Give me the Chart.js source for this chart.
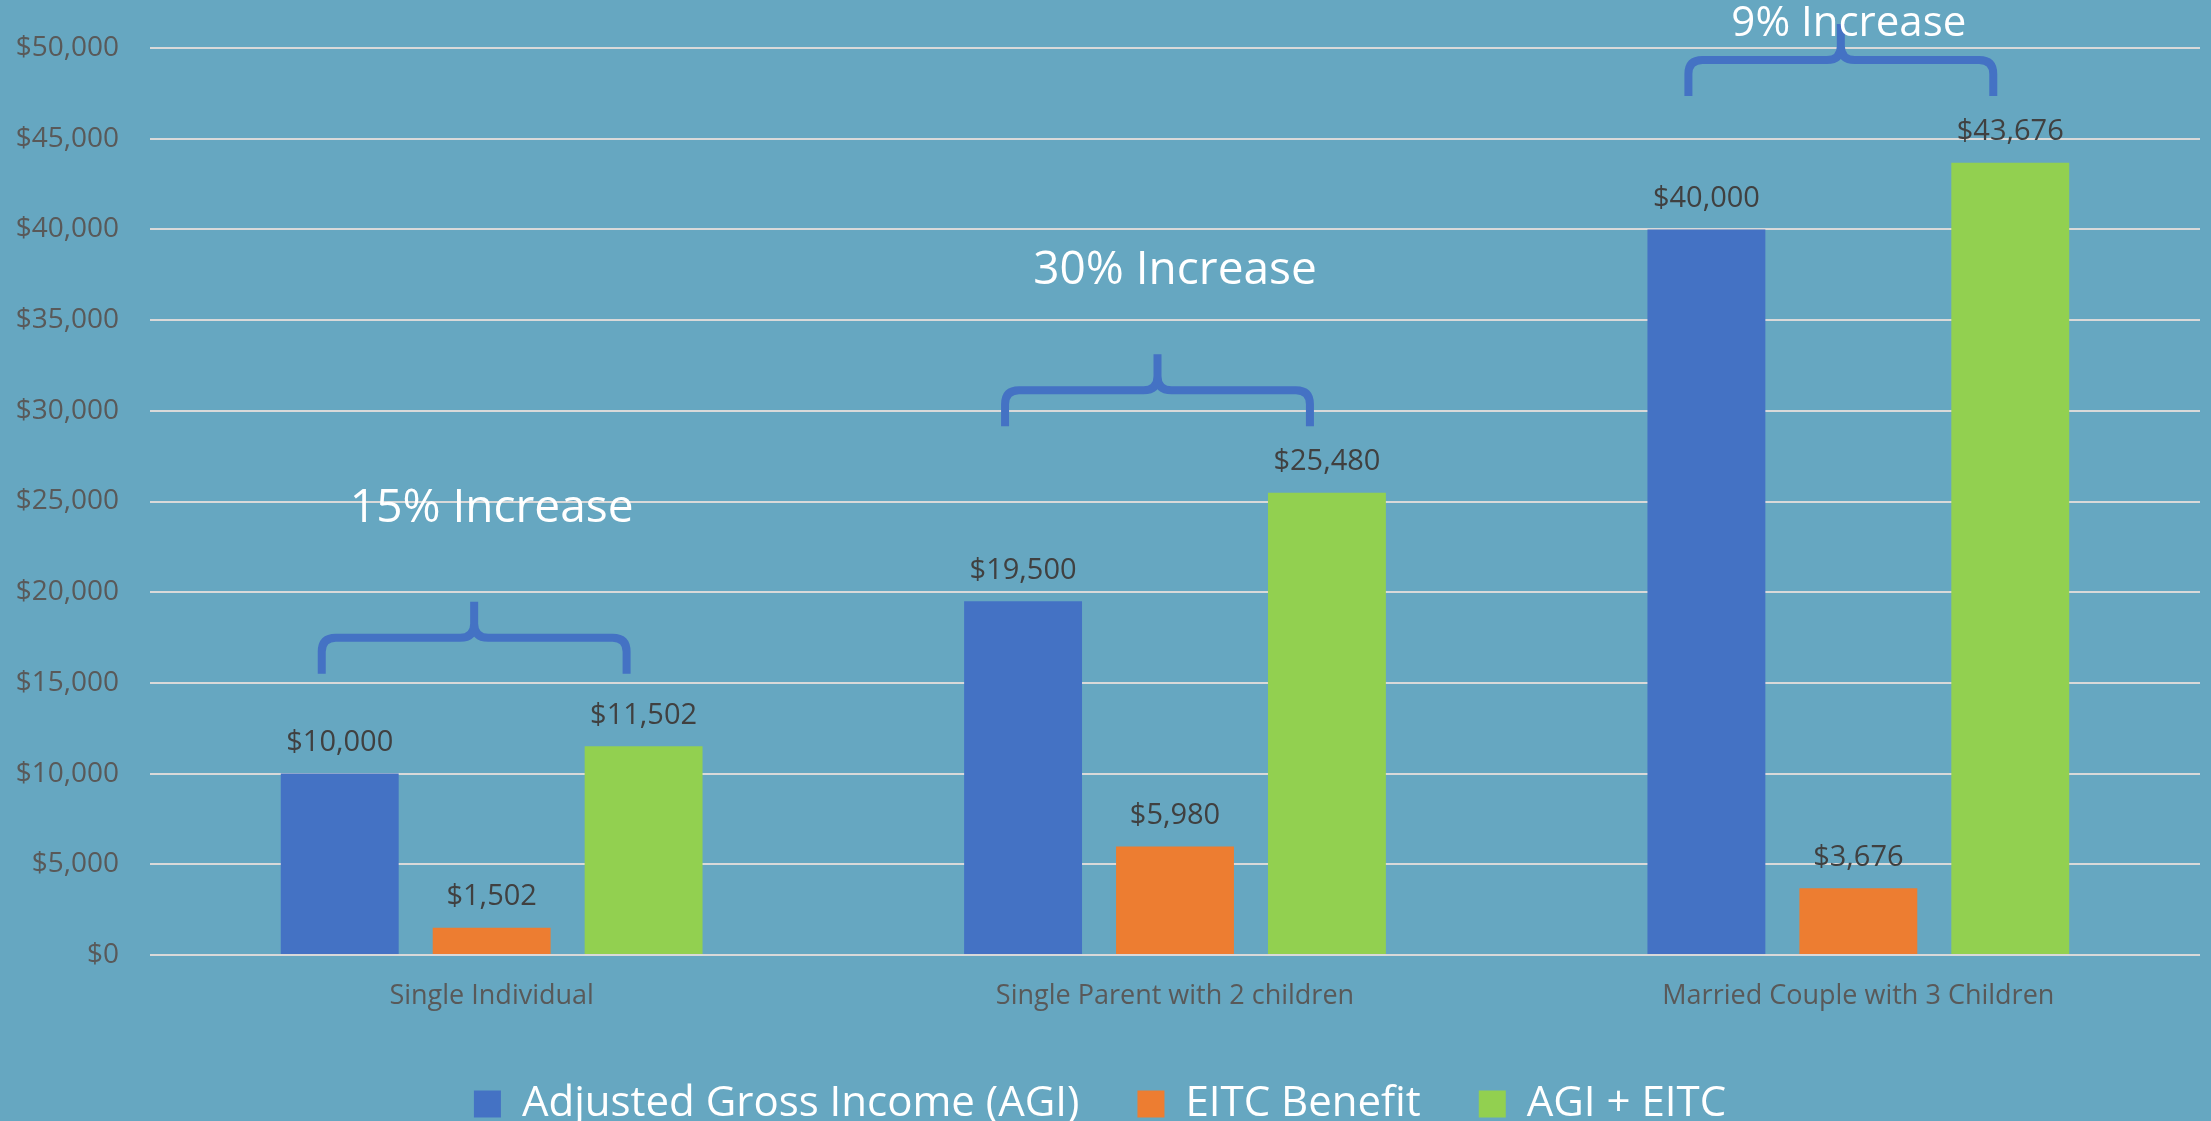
<!DOCTYPE html>
<html>
<head>
<meta charset="utf-8">
<script src="https://cdn.jsdelivr.net/npm/chart.js"></script>
<style>
  html, body { margin: 0; padding: 0; background: #66A7C1; }
  #wrap { width: 2211px; height: 1121px; position: relative; }
</style>
</head>
<body>
<div id="wrap"><canvas id="eitc-chart"></canvas></div>
<script>
// chart data
var categories = ["Single Individual", "Single Parent with 2 children", "Married Couple with 3 Children"];
var agi = [10000, 19500, 40000];
var eitc = [1502, 5980, 3676];
var agiPlusEitc = [11502, 25480, 43676];
var increaseText = ["15% Increase", "30% Increase", "9% Increase"];
// annotation heights in data units (bracket foot, text centre)
var bracketFoot = [15500, 29150, 47350];
var increaseTextY = [24600, 37700, 51300];

var money = function (v) { return "$" + Number(v).toLocaleString("en-US"); };

// value labels above each bar
var barLabels = {
    id: "barLabels",
    afterDatasetsDraw: function (chart) {
        var ctx = chart.ctx;
        ctx.save();
        ctx.font = "29px 'Open Sans'";
        ctx.fillStyle = "#404040";
        ctx.textAlign = "center";
        ctx.textBaseline = "middle";
        chart.data.datasets.forEach(function (ds, i) {
            chart.getDatasetMeta(i).data.forEach(function (bar, j) {
                ctx.fillText(money(ds.data[j]), bar.x, bar.y - 31);
            });
        });
        ctx.restore();
    }
};

// curly brackets + "% Increase" notes
var noteSizes = [46, 46, 42];
var brackets = {
    id: "brackets",
    afterDatasetsDraw: function (chart) {
        var ctx = chart.ctx;
        var y = chart.scales.y;
        var first = chart.getDatasetMeta(0).data;
        var last = chart.getDatasetMeta(2).data;
        ctx.save();
        for (var i = 0; i < categories.length; i++) {
            var xl = first[i].x - 18, xr = last[i].x - 17, xm = (xl + xr) / 2;
            var yb = y.getPixelForValue(bracketFoot[i]);
            var yh = yb - 36, yt = yh - 36, r = 14;
            ctx.strokeStyle = "#4472C4";
            ctx.lineWidth = 8;
            ctx.lineCap = "butt";
            ctx.lineJoin = "round";
            ctx.beginPath();
            ctx.moveTo(xl, yb);
            ctx.lineTo(xl, yh + r);
            ctx.quadraticCurveTo(xl, yh, xl + r, yh);
            ctx.lineTo(xm - r, yh);
            ctx.quadraticCurveTo(xm, yh, xm, yh - r);
            ctx.lineTo(xm, yt);
            ctx.moveTo(xr, yb);
            ctx.lineTo(xr, yh + r);
            ctx.quadraticCurveTo(xr, yh, xr - r, yh);
            ctx.lineTo(xm + r, yh);
            ctx.quadraticCurveTo(xm, yh, xm, yh - r);
            ctx.stroke();

            ctx.font = noteSizes[i] + "px 'Open Sans'";
            ctx.fillStyle = "#FFFFFF";
            ctx.textAlign = "center";
            ctx.textBaseline = "middle";
            var cx = i === 2 ? xm + 8 : chart.scales.x.getPixelForValue(i);
            ctx.fillText(increaseText[i], cx, y.getPixelForValue(increaseTextY[i]));
        }
        ctx.restore();
    }
};

var ctx = document.getElementById("eitc-chart");
var chartGraph = new Chart(ctx, {
    type: "bar",
    data: {
        labels: categories,
        datasets: [
            {
                label: "Adjusted Gross Income (AGI)",
                data: agi,
                backgroundColor: "#4472C4",
            },
            {
                label: "EITC Benefit",
                data: eitc,
                backgroundColor: "#ED7D31",
            },
            {
                label: "AGI + EITC",
                data: agiPlusEitc,
                backgroundColor: "#92D050",
            }
        ],
    },
    options: {
        responsive: true,
        maintainAspectRatio: false,
        animation: false,
        categoryPercentage: 0.667,
        barPercentage: 0.776,
        layout: { padding: { top: 48, right: 11, left: 0, bottom: -14 } },
        plugins: {
            tooltip: { enabled: false },
            legend: {
                position: "bottom",
                labels: {
                    font: { family: "'Open Sans'", size: 42 },
                    color: "#FFFFFF",
                    boxWidth: 27,
                    boxHeight: 27,
                    padding: 58,
                }
            }
        },
        scales: {
            x: {
                grid: { display: false, drawTicks: false },
                border: { display: false },
                ticks: {
                    font: { family: "'Open Sans'", size: 27, lineHeight: 1.2 },
                    color: "#595959",
                    padding: 25,
                },
                afterFit: function (scale) { scale.height = 70; }
            },
            y: {
                min: 0,
                max: 50000,
                grid: { color: "#D9D9D9", lineWidth: 2, drawTicks: false },
                border: { display: false },
                ticks: {
                    stepSize: 5000,
                    font: { family: "'Open Sans'", size: 28 },
                    color: "#595959",
                    padding: 31,
                    callback: function (v) { return money(v); }
                },
                afterFit: function (scale) { scale.width = 150; }
            }
        }
    },
    plugins: [barLabels, brackets]
});
</script>
</body>
</html>
